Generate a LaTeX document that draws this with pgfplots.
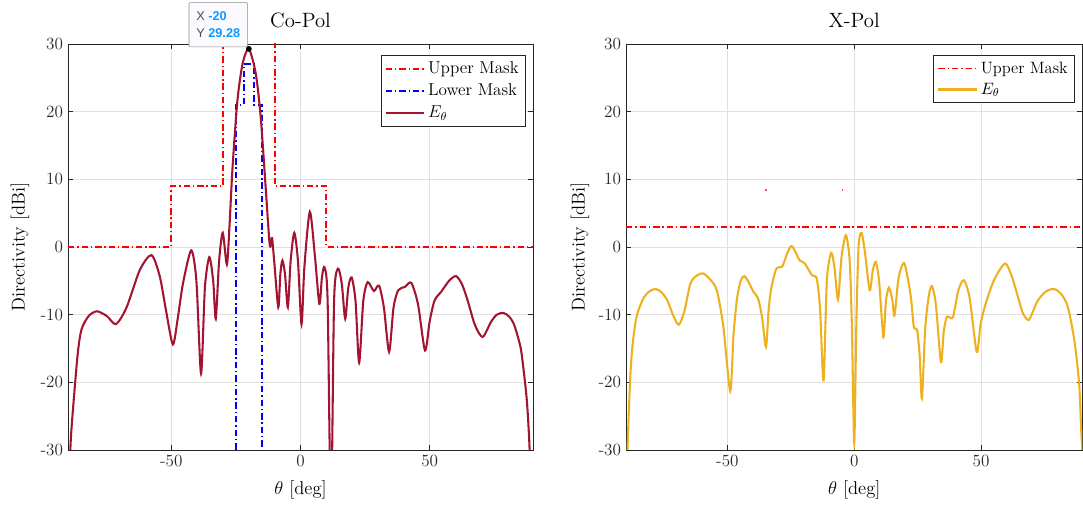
\RequirePackage{fix-cm}
\documentclass[border=0pt]{standalone}
\usepackage{fontspec}
\usepackage{pgfplots}
\pgfplotsset{compat=1.18}
\newfontfamily\tipfont{Liberation Sans}
\definecolor{copol}{rgb}{0.635,0.078,0.184}
\definecolor{xpol}{rgb}{0.929,0.694,0.125}
\definecolor{tipblue}{rgb}{0.05,0.6,1.0}
\definecolor{axgray}{rgb}{0.15,0.15,0.15}

\pgfplotsset{
  myaxis/.style={
    scale only axis,
    xmin=-90,xmax=90,ymin=-30,ymax=30,
    xtick={-50,0,50}, xticklabels={-50,0,50},
    ytick={-30,-20,-10,0,10,20,30}, yticklabels={-30,-20,-10,0,10,20,30},
    grid=major, major grid style={line width=0.6pt, color=black!12},
    tick align=inside, major tick length=3.5pt,
    axis line style={line width=0.6pt, draw=axgray},
    every tick/.style={draw=axgray, line width=0.6pt},
    tick label style={font=\fontsize{12}{14}\selectfont, text=axgray},
    label style={font=\fontsize{13}{15}\selectfont},
    title style={font=\fontsize{14.5}{16}\selectfont, at={(axis description cs:0.5,1)}, anchor=base, yshift=5.6pt},
    xlabel={$\theta$ [deg]},
    ylabel={Directivity [dBi]},
    legend cell align=left,
    legend image code/.code={\draw[##1] (0pt,0pt) -- (27pt,0pt);},
  },
  mask/.style={line width=1.2pt, dash pattern=on 4.5pt off 2pt on 1pt off 2pt},
}

\begin{document}
\begin{tikzpicture}
\useasboundingbox (0,0) rectangle (758.1pt,354.9pt);

% ---------------- Co-Pol ----------------
\begin{axis}[myaxis,
  at={(47.6pt,39.9pt)}, anchor=south west,
  width=325.5pt, height=284.2pt,
  title={Co-Pol},
  xlabel style={at={(axis description cs:0.5,-0.0985)}, anchor=center},
  ylabel style={at={(axis description cs:-0.1032,0.5)}, anchor=center},
  legend style={at={(axis description cs:1,1)}, anchor=north east, xshift=-5.25pt, yshift=-7.7pt,
    font=\fontsize{12}{14}\selectfont, draw=axgray, line width=0.6pt, fill=white,
    row sep=1.6pt, inner sep=2.5pt},
]
\addplot[mask, red] coordinates {
(-90,0) (-50,0) (-50,9) (-30,9) (-30,45) (-10,45) (-10,9) (10,9) (10,0) (90,0)};
\addlegendentry{Upper Mask}
\addplot[mask, blue] coordinates {
(-25,-50) (-25,21) (-22,21) (-22,27) (-18,27) (-18,21) (-15,21) (-15,-50)};
\addlegendentry{Lower Mask}
\addplot[copol, line width=1.45pt, smooth, tension=0.45] coordinates {
(-90,-45) (-89.1,-30) (-87.8,-22.7) (-86.1,-15.3) (-84.7,-12.1) (-82,-10.2)
(-78.8,-9.5) (-75,-10.2) (-71.4,-11.4) (-67.3,-8.9) (-62.2,-3.4) (-57.7,-1.2)
(-54.5,-4.3) (-52,-9.5) (-49.4,-14.4) (-47.5,-10.5) (-45.5,-5.4) (-42.3,-0.5)
(-40.3,-5) (-38.5,-18.7) (-37,-6) (-35.3,-1.5) (-33.8,-5) (-32.8,-10.6)
(-31.5,-2) (-30.1,2.1) (-28.5,-2.6) (-27.5,3) (-26.3,11.8) (-24.4,21.7)
(-22.4,27.1) (-20,29.28) (-17.3,25.6) (-15.4,19.2) (-13.5,8.9) (-12,0.6)
(-11.5,0.4) (-11,1.3) (-10.2,-2) (-8.6,-8.9) (-7.8,-4) (-7.0,-2.0) (-6,-4)
(-4.9,-8.9) (-3.8,-2) (-2.4,2.1) (-1,-2) (0.4,-11.4) (1.5,-3) (3.6,5.2)
(5.5,-1) (7.3,-8.4) (8.3,-4.5) (9.3,-3.0) (10.5,-8) (11.8,-40) (13,-8)
(14.5,-3.2) (16,-5.5) (17.3,-10.6) (18.5,-6) (19.8,-4.5) (21.3,-8) (22.7,-17.1)
(24.3,-8) (26.0,-5.2) (28.4,-6.5) (30.4,-5.7) (32.3,-9) (34.3,-15.5) (36,-9)
(37.8,-6.4) (40.4,-5.9) (42.9,-5.3) (45.5,-8.5) (48.2,-15.3) (50,-11)
(51.9,-7.9) (54.5,-6.6) (57.5,-5) (60.2,-4.3) (62.5,-5.5) (64.7,-7.9)
(67.5,-11.5) (70.5,-13.3) (73.7,-11.1) (76,-10) (78.6,-9.75) (80.8,-10.3)
(82.7,-11.5) (85,-14.5) (85.9,-16.7) (87.6,-22.6) (88.7,-30) (90,-45)};
\addlegendentry{$E_\theta$}
\addplot[only marks, mark=*, mark size=1.8pt, black, forget plot] coordinates {(-20,29.28)};
\coordinate (pk) at (axis cs:-20,29.28);
\end{axis}

\node[anchor=south east, xshift=-0.7pt, yshift=1.2pt, draw=black!45, fill=blue!2, rounded corners=0.8pt,
  minimum width=41pt, minimum height=31pt, align=left, inner xsep=3pt,
  font=\tipfont\fontsize{8.9}{12}\selectfont] at (pk)
  {{\color{black!70}X} {\color{tipblue}\bfseries -20}\\{\color{black!70}Y} {\color{tipblue}\bfseries 29.28}};

% ---------------- X-Pol ----------------
\begin{axis}[myaxis,
  at={(438.2pt,39.9pt)}, anchor=south west,
  width=319.5pt, height=284.2pt,
  title={X-Pol},
  xlabel style={at={(axis description cs:0.5,-0.0985)}, anchor=center},
  ylabel style={at={(axis description cs:-0.1007,0.5)}, anchor=center},
  legend style={at={(axis description cs:1,1)}, anchor=north east, xshift=-5.6pt, yshift=-7.7pt,
    font=\fontsize{11.5}{13.5}\selectfont, draw=axgray, line width=0.6pt, fill=white,
    row sep=1.2pt, inner sep=2.5pt},
]
\addplot[mask, red] coordinates {(-90,3) (90,3)};
\addlegendentry{Upper Mask}
\addplot[xpol, line width=1.45pt, smooth, tension=0.45] coordinates {
(-90,-45) (-89.4,-30) (-88.1,-17.7) (-86.8,-12.5) (-85.5,-9.8) (-82.9,-7.4)
(-80.5,-6.5) (-78.3,-6.2) (-76,-6.7) (-73.7,-7.9) (-71.5,-10) (-69.2,-11.5)
(-67,-9.5) (-64.6,-5.4) (-62,-4.2) (-59.6,-3.9) (-56.8,-4.8) (-54.2,-6.4)
(-51.6,-11.8) (-48.9,-21.3) (-47.6,-13) (-46.3,-7.9) (-44.8,-5) (-43.3,-4.3)
(-41.5,-5.3) (-39.8,-6.6) (-37.9,-7.6) (-36.3,-10.5) (-34.8,-14.8) (-33.7,-9)
(-32.6,-5.9) (-30.7,-3.2) (-28.4,-2.9) (-26.5,-1) (-24.8,0.16) (-23.2,-0.7)
(-21.6,-1.95) (-19.6,-2.4) (-16.6,-4.2) (-14.8,-4.65) (-13.5,-9) (-12.1,-19.7)
(-10.8,-5) (-9.1,-0.87) (-7.8,-3) (-6.4,-7.8) (-5,-1.5) (-3.3,1.74) (-1.8,-2)
(-0.9,-12) (0,-29) (0.8,-12) (1.7,0) (2.9,2.1) (4.3,-1) (6.1,-6.4) (7.3,-3.5)
(8.5,-2.2) (9.8,-5) (11.5,-13.3) (12.5,-8) (13.7,-6.0) (15,-7.8) (15.9,-10.1)
(17.5,-4.5) (19.6,-2.35) (21.3,-5) (22.5,-7.9) (23.5,-11.8) (24.8,-12.3)
(25.8,-16) (26.7,-22.4) (28,-12) (29.5,-7) (30.7,-5.8) (32.2,-8.5) (34.2,-17)
(35.3,-12.5) (36.6,-10.3) (38.9,-10.4) (41,-6.5) (43.2,-4.9) (45.5,-7.5)
(48.3,-15.5) (49.8,-11.5) (51.5,-8.8) (55,-5) (59.4,-2.45) (62,-4.2) (64.6,-7.4)
(66.5,-9.8) (68.8,-10.8) (70.5,-9.5) (72.4,-7.9) (75.5,-6.6) (78.7,-6.2)
(81.5,-6.9) (84.2,-8.8) (86.8,-13.8) (88.7,-20.2) (89.5,-27) (90,-30)};
\addlegendentry{$E_\theta$}
\addplot[only marks, mark=square*, mark size=0.3pt, red!70, forget plot] coordinates {(-34.8,8.4) (-4.7,8.4)};
\end{axis}
\end{tikzpicture}
\end{document}
